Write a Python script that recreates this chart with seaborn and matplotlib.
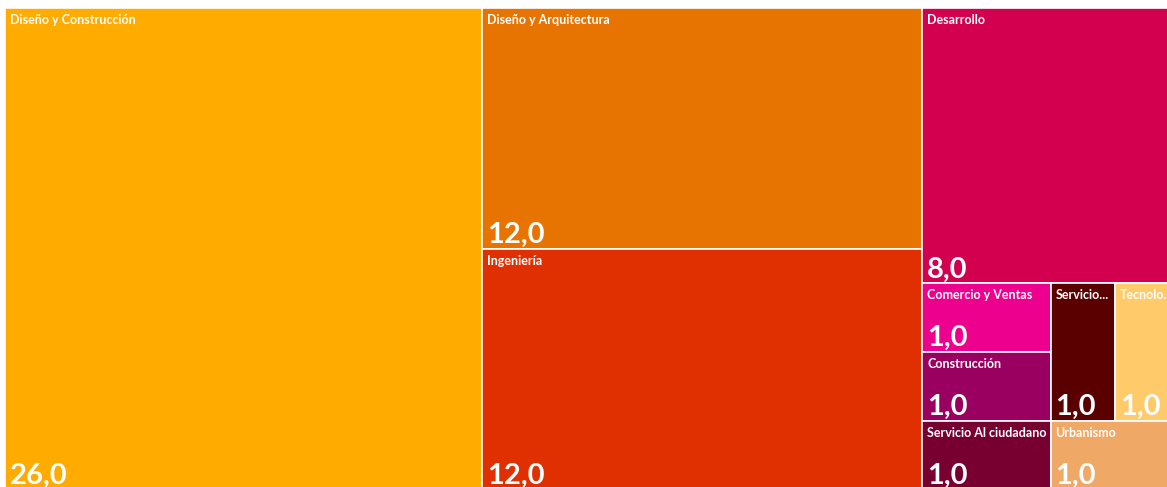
import matplotlib.pyplot as plt
import seaborn as sns
from matplotlib.patches import Rectangle

# Datos del treemap
categories = ['Diseño y Construcción', 'Diseño y Arquitectura', 'Ingeniería', 'Desarrollo',
              'Comercio y Ventas', 'Construcción', 'Servicio Al ciudadano', 'Servicio...',
              'Tecnolo.', 'Urbanismo']
values = [26.0, 12.0, 12.0, 8.0, 1.0, 1.0, 1.0, 1.0, 1.0, 1.0]
colors = ['#FFAB00', '#E77400', '#E02F00', '#D2004E', '#EE008E',
          '#9A0060', '#780030', '#5B0000', '#FFCA6A', '#EFA865']

sns.set_theme(style='white')
plt.rcParams['font.family'] = ['Lato', 'DejaVu Sans']


def squarify(vals, x0, y0, x1, y1, ratio=(1 + 5 ** 0.5) / 2):
    # squarified layout (golden ratio), like d3.treemapSquarify
    rects = []
    total = sum(vals)
    i0, n = 0, len(vals)
    while i0 < n:
        dx, dy = x1 - x0, y1 - y0
        s = vals[i0]
        mn = mx = s
        alpha = max(dy / dx, dx / dy) / (total * ratio)
        beta = s * s * alpha
        best = max(mx / beta, beta / mn)
        i1 = i0 + 1
        while i1 < n:
            v = vals[i1]
            s2 = s + v
            mn2, mx2 = min(mn, v), max(mx, v)
            beta = s2 * s2 * alpha
            r = max(mx2 / beta, beta / mn2)
            if r > best:
                break
            best, s, mn, mx = r, s2, mn2, mx2
            i1 += 1
        row = vals[i0:i1]
        if dx < dy:
            h = dy * s / total
            cx = x0
            for v in row:
                w = dx * v / s
                rects.append((cx, y0, w, h))
                cx += w
            y0 += h
        else:
            w = dx * s / total
            cy = y0
            for v in row:
                h = dy * v / s
                rects.append((x0, cy, w, h))
                cy += h
            x0 += w
        total -= s
        i0 = i1
    return rects


order = sorted(range(len(values)), key=lambda i: (-values[i], categories[i]))
cats = [categories[i] for i in order]
vals = [values[i] for i in order]
cols = sns.color_palette([colors[i] for i in order])

# el visual es algo mas grande que la captura: se recorta a la derecha y abajo
W, H = 1174, 482
fig = plt.figure(figsize=(11.67, 4.87), dpi=100)
ax = fig.add_axes([5 / 1167, (487 - 490) / 487, W / 1167, H / 487])
ax.set_xlim(0, W)
ax.set_ylim(H, 0)
ax.axis('off')

for (x, y, w, h), name, v, c in zip(squarify(vals, 0, 0, W, H), cats, vals, cols):
    rect = Rectangle((x, y), w, h, facecolor=c, edgecolor='white', linewidth=1.2)
    ax.add_patch(rect)
    t1 = ax.text(x + 5, y + 6, name, color='white', fontsize=9, fontweight='bold',
                 va='top', ha='left')
    t1.set_clip_path(rect)
    t2 = ax.text(x + 5, y + h - 6, f'{v:.1f}'.replace('.', ','), color='white',
                 fontsize=21, fontweight='bold', va='baseline', ha='left')
    t2.set_clip_path(rect)

fig.savefig('out.png', dpi=100, facecolor='white')
